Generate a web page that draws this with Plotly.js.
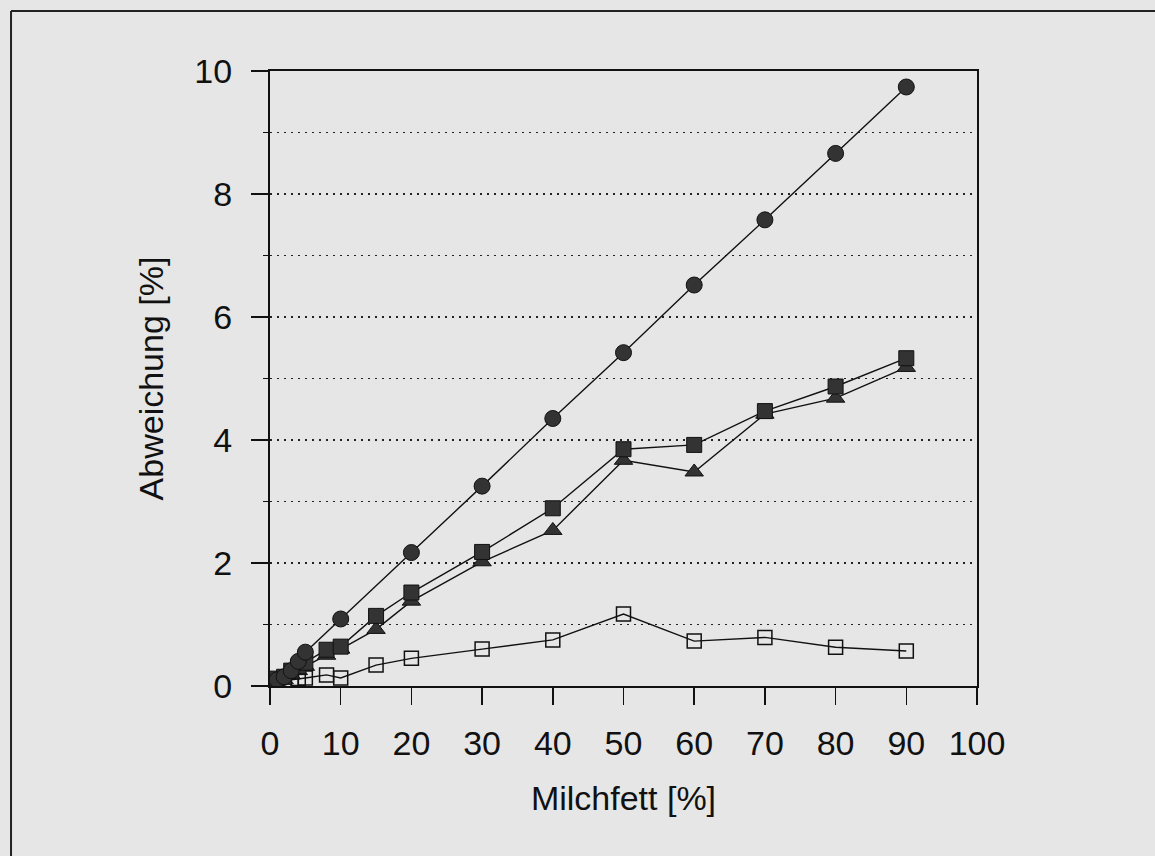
<!DOCTYPE html>
<html>
<head>
<meta charset="utf-8">
<script src="https://cdn.plot.ly/plotly-3.0.1.min.js"></script>
<style>html,body{margin:0;padding:0;background:#e6e6e6;}</style>
</head>
<body>
<div id="chart" style="width:1155px;height:856px;"></div>
<script>
// Data
const xCircle = [1, 2, 3, 4, 5, 10, 20, 30, 40, 50, 60, 70, 80, 90];
const yCircle = [0.10, 0.15, 0.25, 0.40, 0.55, 1.09, 2.17, 3.25, 4.35, 5.42, 6.52, 7.58, 8.66, 9.74];

const xSquare = [1, 2, 3, 4, 5, 8, 10, 15, 20, 30, 40, 50, 60, 70, 80, 90];
const ySquare = [0.12, 0.15, 0.25, 0.32, 0.38, 0.59, 0.64, 1.14, 1.52, 2.18, 2.89, 3.85, 3.92, 4.47, 4.87, 5.33];

const xTriangle = [1, 2, 3, 4, 5, 8, 10, 15, 20, 30, 40, 50, 60, 70, 80, 90];
const yTriangle = [0.08, 0.10, 0.18, 0.25, 0.32, 0.50, 0.60, 0.92, 1.38, 2.02, 2.53, 3.67, 3.48, 4.42, 4.68, 5.18];

const xOpen = [1, 2, 3, 4, 5, 8, 10, 15, 20, 30, 40, 50, 60, 70, 80, 90];
const yOpen = [0.10, 0.08, 0.10, 0.12, 0.13, 0.18, 0.13, 0.34, 0.45, 0.60, 0.75, 1.17, 0.73, 0.79, 0.63, 0.57];

const xTicks = [0, 10, 20, 30, 40, 50, 60, 70, 80, 90, 100];
const yTicks = [0, 2, 4, 6, 8, 10];

const xTitle = 'Milchfett [%]';
const yTitle = 'Abweichung [%]';

const FONT = '"Liberation Sans", Arial, Helvetica, sans-serif';
const FS = 34;
const lineStyle = {color: '#111', width: 1.4};

const traces = [
  {x: xOpen, y: yOpen, mode: 'lines+markers', line: lineStyle,
   marker: {symbol: 'square-open', size: 14, color: '#111', line: {width: 1.5, color: '#111'}}},
  {x: xTriangle, y: yTriangle, mode: 'lines+markers', line: lineStyle,
   marker: {symbol: 'triangle-up', size: 16, color: '#333', line: {width: 1, color: '#111'}}},
  {x: xSquare, y: ySquare, mode: 'lines+markers', line: lineStyle,
   marker: {symbol: 'square', size: 15, color: '#333', line: {width: 1, color: '#111'}}},
  {x: xCircle, y: yCircle, mode: 'lines+markers', line: lineStyle,
   marker: {symbol: 'circle', size: 16, color: '#333', line: {width: 1, color: '#111'}}}
];

const layout = {
  width: 1155, height: 856,
  margin: {l: 270, r: 178, t: 71, b: 170},
  paper_bgcolor: '#e6e6e6',
  plot_bgcolor: '#e6e6e6',
  showlegend: false,
  font: {family: FONT, size: FS, color: '#111'},
  xaxis: {
    range: [0, 100], tickvals: xTicks, ticktext: xTicks.map(String),
    tickfont: {family: FONT, size: FS, color: '#111'},
    ticks: 'outside', ticklen: 17, tickwidth: 1.5, tickcolor: '#111',
    showline: true, linecolor: '#111', linewidth: 2, mirror: true,
    showgrid: false, zeroline: false, ticklabelstandoff: 9,
    title: {text: xTitle, standoff: 25, font: {family: FONT, size: FS, color: '#111'}}
  },
  yaxis: {
    range: [0, 10], tickvals: yTicks, ticktext: yTicks.map(String),
    tickfont: {family: FONT, size: FS, color: '#111'},
    ticks: 'outside', ticklen: 17, tickwidth: 1.5, tickcolor: '#111',
    showline: true, linecolor: '#111', linewidth: 2, mirror: true,
    showgrid: true, gridcolor: '#222', gridwidth: 1.5, griddash: '2px,5px',
    zeroline: false, ticklabelstandoff: 12,
    minor: {dtick: 1, ticks: 'outside', ticklen: 5, tickwidth: 1.5, tickcolor: '#111',
            showgrid: true, gridcolor: '#222', gridwidth: 1.5, griddash: '2px,5px'},
    title: {text: yTitle, standoff: 20, font: {family: FONT, size: FS, color: '#111'}}
  },
  shapes: [
    {type: 'line', xref: 'paper', yref: 'paper', x0: -0.3663, x1: -0.3663, y0: -0.30, y1: 1.0976,
     line: {color: '#222', width: 2}},
    {type: 'line', xref: 'paper', yref: 'paper', x0: -0.3663, x1: 1.26, y0: 1.0976, y1: 1.0976,
     line: {color: '#222', width: 2}}
  ]
};

Plotly.newPlot('chart', traces, layout, {displayModeBar: false, staticPlot: true});
</script>
</body>
</html>
